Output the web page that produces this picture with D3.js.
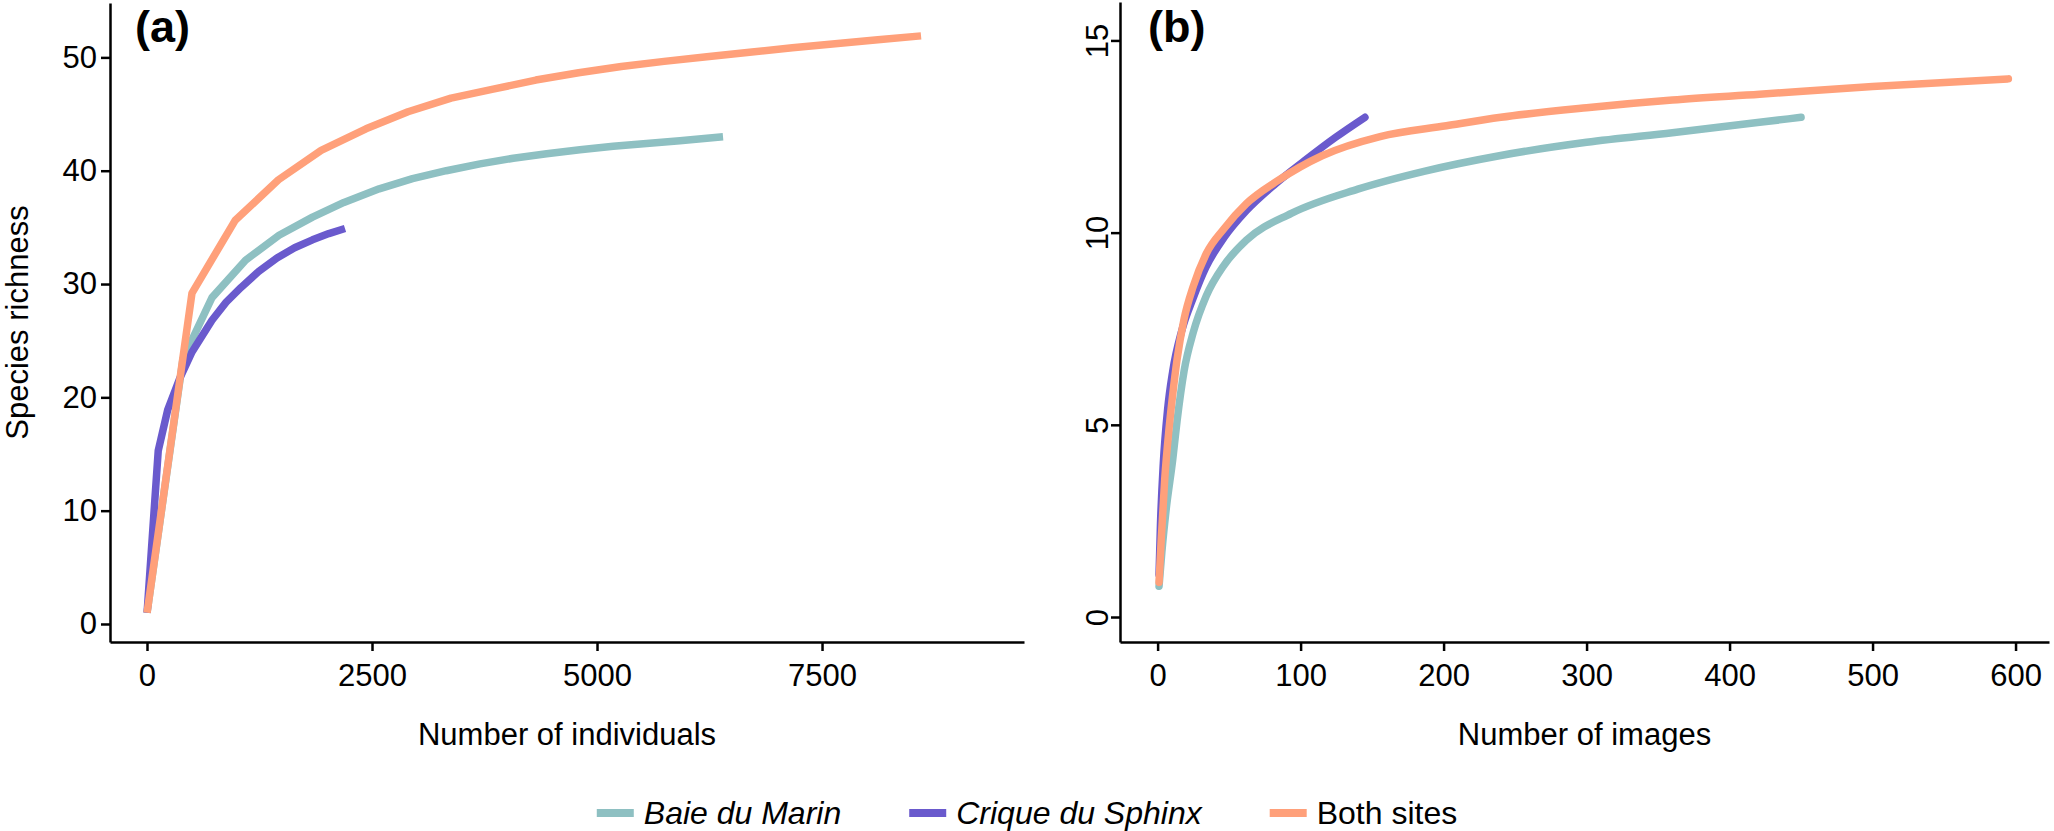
<!DOCTYPE html>
<html>
<head>
<meta charset="utf-8">
<script src="https://cdn.jsdelivr.net/npm/d3@7"></script>
<style>
  body { margin: 0; background: #fff; }
  text { font-family: "Liberation Sans", Arial, sans-serif; }
</style>
</head>
<body>
<script>
// Sites and colours
var sites = ["Baie du Marin", "Crique du Sphinx", "Both sites"];
var italicSite = [true, true, false];
var colors = ["#8EC0C2", "#6A5ACD", "#FFA07A"];

// (a) richness vs number of individuals
var indBaieX   = [1, 400, 722, 1095, 1467, 1839, 2188, 2580, 2950, 3325, 3700, 4070, 4440, 4810, 5180, 5550, 5920, 6400];
var indBaieY   = [1.0, 23.4, 28.8, 32.1, 34.3, 35.9, 37.2, 38.4, 39.3, 40.0, 40.6, 41.1, 41.5, 41.85, 42.15, 42.4, 42.65, 43.0];
var indSphinxX = [1, 125, 230, 360, 500, 722, 880, 1045, 1240, 1444, 1640, 1839, 2020, 2200];
var indSphinxY = [1.0, 15.3, 18.9, 21.6, 24.0, 26.8, 28.4, 29.7, 31.1, 32.3, 33.2, 33.9, 34.45, 34.9];
var indBothX   = [1, 500, 978, 1461, 1935, 2433, 2900, 3378, 3846, 4320, 4795, 5270, 5745, 6220, 6695, 7170, 7645, 8120, 8600];
var indBothY   = [1.0, 29.2, 35.6, 39.2, 41.8, 43.7, 45.2, 46.4, 47.2, 48.0, 48.65, 49.2, 49.65, 50.05, 50.45, 50.85, 51.2, 51.55, 51.9];

// (b) richness vs number of images
var imgBaieX   = [1, 3, 6, 10.6, 13.6, 18.5, 24.9, 34, 46.4, 62, 93.5, 140, 187, 239, 300, 360, 421, 450];
var imgBaieY   = [0.8, 1.7, 2.8, 4.1, 5.1, 6.4, 7.4, 8.35, 9.15, 9.8, 10.5, 11.13, 11.6, 12.0, 12.35, 12.6, 12.87, 13.0];
var imgSphinxX = [1, 2, 4, 7, 10.6, 16.9, 24.9, 33.8, 46.4, 62, 82.4, 102.7, 124.5, 145];
var imgSphinxY = [1.1, 2.4, 4.0, 5.4, 6.4, 7.45, 8.3, 9.1, 9.87, 10.57, 11.27, 11.87, 12.48, 13.0];
var imgBothX   = [1, 2.5, 5, 8, 10.6, 13.6, 18.5, 24.9, 34, 46.4, 62, 84, 115, 155.6, 202, 240, 300, 360, 421, 500, 595];
var imgBothY   = [0.9, 2.0, 3.6, 4.9, 5.8, 6.7, 7.75, 8.6, 9.45, 10.1, 10.75, 11.35, 12.0, 12.5, 12.78, 13.0, 13.25, 13.45, 13.6, 13.8, 14.0];

// Tick values
var indTicksX = [0, 2500, 5000, 7500];
var indTicksY = [0, 10, 20, 30, 40, 50];
var imgTicksX = [0, 100, 200, 300, 400, 500, 600];
var imgTicksY = [0, 5, 10, 15];

var w = 2054,
    h = 831;

var svg = d3.select('body')
            .append('svg')
            .attr('width', w)
            .attr('height', h);

function zip(xs, ys) {
   return xs.map(function(x, i) { return [x, ys[i]]; });
}

function drawPanel(opt) {
   var xScale = d3.scaleLinear().domain(opt.xDomain).range([opt.left, opt.right]);
   var yScale = d3.scaleLinear().domain(opt.yDomain).range([opt.bottom, opt.top]);

   var line = d3.line()
                .x(function(d) { return xScale(d[0]); })
                .y(function(d) { return yScale(d[1]); })
                .curve(opt.curve);

   svg.append('g')
      .selectAll('path')
      .data(opt.series)
      .enter()
      .append('path')
      .attr('d', line)
      .attr('fill', 'none')
      .attr('stroke', function(d, i) { return colors[i]; })
      .attr('stroke-width', 7.5)
      .attr('stroke-linecap', opt.cap)
      .attr('stroke-linejoin', 'round');

   // x axis
   var gx = svg.append('g')
               .attr('transform', 'translate(0,' + opt.bottom + ')')
               .call(d3.axisBottom(xScale)
                       .tickValues(opt.xTicks)
                       .tickSize(9)
                       .tickPadding(13)
                       .tickSizeOuter(0)
                       .tickFormat(d3.format('d')));
   // y axis
   var gy = svg.append('g')
               .attr('transform', 'translate(' + opt.left + ',0)')
               .call(d3.axisLeft(yScale)
                       .tickValues(opt.yTicks)
                       .tickSize(9)
                       .tickPadding(4)
                       .tickSizeOuter(0)
                       .tickFormat(d3.format('d')));

   [gx, gy].forEach(function(g) {
      g.select('.domain').attr('stroke', '#000').attr('stroke-width', 2.5);
      g.selectAll('.tick line').attr('stroke', '#000').attr('stroke-width', 2.5);
      g.selectAll('.tick text')
       .attr('fill', '#000')
       .attr('font-size', '31px')
       .attr('font-family', '"Liberation Sans", Arial, sans-serif');
   });

   if (opt.rotateY) {
      gy.selectAll('.tick text')
        .attr('text-anchor', 'middle')
        .attr('x', 0)
        .attr('y', -12)
        .attr('dy', 0)
        .attr('transform', 'rotate(-90)');
   }

   // panel tag
   svg.append('text')
      .attr('x', opt.left + opt.tagDx)
      .attr('y', 42)
      .attr('font-size', '45px')
      .attr('font-weight', 'bold')
      .text(opt.tag);

   // x title
   svg.append('text')
      .attr('x', (opt.left + opt.right) / 2)
      .attr('y', 745)
      .attr('text-anchor', 'middle')
      .attr('font-size', '31px')
      .text(opt.xTitle);

   if (opt.yTitle) {
      svg.append('text')
         .attr('transform', 'translate(28,' + (opt.top + opt.bottom) / 2 + ') rotate(-90)')
         .attr('text-anchor', 'middle')
         .attr('font-size', '31px')
         .text(opt.yTitle);
   }
}

drawPanel({
   left: 110, right: 1024, top: 3, bottom: 642,
   xDomain: [-411, 9744], yDomain: [-1.59, 54.8],
   xTicks: indTicksX, yTicks: indTicksY,
   series: [zip(indBaieX, indBaieY), zip(indSphinxX, indSphinxY), zip(indBothX, indBothY)],
   curve: d3.curveLinear, cap: 'butt',
   rotateY: false, tag: '(a)', tagDx: 25,
   xTitle: 'Number of individuals', yTitle: 'Species richness'
});

drawPanel({
   left: 1120, right: 2049, top: 2, bottom: 642,
   xDomain: [-26.3, 623.4], yDomain: [-0.65, 16.0],
   xTicks: imgTicksX, yTicks: imgTicksY,
   series: [zip(imgBaieX, imgBaieY), zip(imgSphinxX, imgSphinxY), zip(imgBothX, imgBothY)],
   curve: d3.curveMonotoneX, cap: 'round',
   rotateY: true, tag: '(b)', tagDx: 28,
   xTitle: 'Number of images', yTitle: null
});

// Legend, centred under both panels
var legend = svg.append('g');
var items = legend.selectAll('g')
                  .data(sites)
                  .enter()
                  .append('g');

items.append('rect')
     .attr('width', 37)
     .attr('height', 8)
     .attr('y', -4)
     .attr('fill', function(d, i) { return colors[i]; });

items.append('text')
     .attr('x', 47)
     .attr('dy', '0.35em')
     .attr('font-size', '32px')
     .attr('font-style', function(d, i) { return italicSite[i] ? 'italic' : 'normal'; })
     .text(function(d) { return d; });

var offset = 0;
items.each(function() {
   var g = d3.select(this);
   g.attr('transform', 'translate(' + offset + ',0)');
   offset += 47 + g.select('text').node().getComputedTextLength() + 68;
});
offset -= 68;
legend.attr('transform', 'translate(' + (w / 2 - offset / 2) + ',813)');
</script>
</body>
</html>
